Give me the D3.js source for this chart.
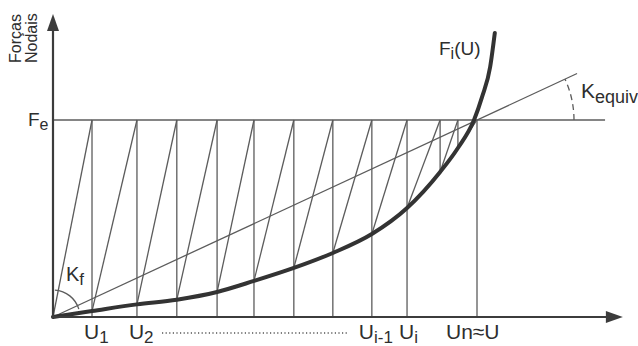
<!DOCTYPE html>
<html lang="pt">
<head>
<meta charset="UTF-8">
<title>Forças Nodais - iterações</title>
<script src="https://d3js.org/d3.v7.min.js"></script>
<style>
  body { margin: 0; background: #fff; }
  svg { display: block; font-family: "Liberation Sans", Arial, sans-serif; }
  .axis { stroke: #3c3c3c; stroke-width: 2.2; fill: none; }
  .arrow { fill: #3c3c3c; }
  .thin { stroke: #5c5c5c; stroke-width: 1.3; fill: none; }
  .curve { stroke: #333; stroke-width: 4; fill: none; stroke-linecap: round; }
  text { fill: #2e2e2e; }
</style>
</head>
<body>
<div id="chart"></div>
<script>
// Fe = 1, Un = 1 (normalized)
const Fe = 1;

// displacement at each iteration
const iterU = [0.092, 0.198, 0.292, 0.387, 0.474, 0.568, 0.660, 0.752, 0.835, 0.913, 0.955, 1.0];
// internal force on the curve at each iteration displacement
const iterF = [0.030, 0.064, 0.088, 0.127, 0.183, 0.249, 0.325, 0.421, 0.553, 0.736, 0.858];
// vertical goes down to the axis (true) or stops at the curve (false)
const toAxis = [true, true, true, true, true, true, true, true, true, false, false, true];

// F_i(U) curve
const curveU = [0, 0.092, 0.198, 0.292, 0.387, 0.474, 0.568, 0.660, 0.752, 0.835, 0.913, 0.955, 0.993, 1.012, 1.031, 1.042];
const curveF = [0, 0.030, 0.064, 0.088, 0.127, 0.183, 0.249, 0.325, 0.421, 0.553, 0.736, 0.858, 1.0, 1.117, 1.269, 1.442];

// secant K_equiv = Fe / Un
const kEquiv = 1;
const secantEndU = 1.236;

const uMax = 1.344, fMax = 1.538, feLineEnd = 1.302;

// axis labels under the x axis
const uLabels = ["1", "2", "i-1", "i"];
const uLabelIdx = [0, 1, 7, 8];

const width = 638, height = 346;

const svg = d3.select("#chart").append("svg")
    .attr("width", width)
    .attr("height", height);

const x = d3.scaleLinear().domain([0, 1]).range([53, 477]);
const y = d3.scaleLinear().domain([0, 1]).range([317, 120]);

const g = svg.append("g");

// Fe level
g.append("line").attr("class", "thin")
    .attr("x1", x(0)).attr("x2", x(feLineEnd))
    .attr("y1", y(Fe)).attr("y2", y(Fe));

// verticals
iterU.forEach((u, i) => {
    const bottom = toAxis[i] ? 0 : iterF[i];
    g.append("line").attr("class", "thin")
        .attr("x1", x(u)).attr("x2", x(u))
        .attr("y1", y(Fe)).attr("y2", y(bottom));
});

// sloped (stiffness) lines
iterU.forEach((u, i) => {
    const u0 = i === 0 ? 0 : iterU[i - 1];
    const f0 = i === 0 ? 0 : iterF[i - 1];
    g.append("line").attr("class", "thin")
        .attr("x1", x(u0)).attr("y1", y(f0))
        .attr("x2", x(u)).attr("y2", y(Fe));
});

// secant
g.append("line").attr("class", "thin")
    .attr("x1", x(0)).attr("y1", y(0))
    .attr("x2", x(secantEndU)).attr("y2", y(kEquiv * secantEndU));

// K_equiv dashed arc
const secAngle = Math.atan2(y(0) - y(kEquiv * secantEndU), x(secantEndU) - x(0));
const p1 = d3.path();
p1.arc(x(1), y(1), 97, 0, -secAngle, true);
g.append("path").attr("class", "thin")
    .attr("stroke-dasharray", "6,4")
    .attr("d", p1.toString());

// K_f arc
const p2 = d3.path();
p2.arc(x(0), y(0), 27, -17 * Math.PI / 180, -86 * Math.PI / 180, true);
g.append("path").attr("class", "thin").attr("d", p2.toString());

// dotted ellipsis between labels
g.append("line")
    .attr("x1", 162).attr("x2", 348).attr("y1", 333).attr("y2", 333)
    .attr("stroke", "#555").attr("stroke-width", 1.3)
    .attr("stroke-dasharray", "1.2,2.4");

// F_i(U) curve
const line = d3.line().x(d => x(d[0])).y(d => y(d[1])).curve(d3.curveMonotoneX);
svg.append("path").attr("class", "curve")
    .attr("d", line(d3.zip(curveU, curveF)));

// axes
svg.append("line").attr("class", "axis")
    .attr("x1", x(0)).attr("y1", y(0)).attr("x2", x(0)).attr("y2", y(fMax) + 10);
svg.append("line").attr("class", "axis")
    .attr("x1", x(0) - 1).attr("y1", y(0)).attr("x2", x(uMax) - 10).attr("y2", y(0));
svg.append("path").attr("class", "arrow")
    .attr("d", `M${x(0)},${y(fMax)} L${x(0) - 6},${y(fMax) + 17} L${x(0) + 6},${y(fMax) + 17} Z`);
svg.append("path").attr("class", "arrow")
    .attr("d", `M${x(uMax)},${y(0)} L${x(uMax) - 17},${y(0) - 6} L${x(uMax) - 17},${y(0) + 6} Z`);

// labels
function subLabel(xp, yp, main, sub, size, subSize, shift, after) {
    const t = svg.append("text").attr("x", xp).attr("y", yp).style("font-size", size + "px");
    t.append("tspan").text(main);
    t.append("tspan").attr("dy", shift).style("font-size", subSize + "px").text(sub);
    if (after) t.append("tspan").attr("dy", -shift).text(after);
    return t;
}

svg.append("text").attr("transform", "translate(21,63) rotate(-90)")
    .style("font-size", "16px").text("Forças");
svg.append("text").attr("transform", "translate(37,63) rotate(-90)")
    .style("font-size", "16px").text("Nodais");

subLabel(28, 126, "F", "e", 19, 16, 4);
subLabel(66, 281, "K", "f", 20, 17, 4);
subLabel(439, 55, "F", "i", 19, 16, 4, "(U)");
subLabel(581, 98, "K", "equiv", 21, 18, 5);

uLabelIdx.forEach((k, j) => {
    const off = uLabels[j] === "i-1" ? 13 : 8;
    subLabel(x(iterU[k]) - off, 339, "U", uLabels[j], 21, 17, 3.5);
});
svg.append("text").attr("x", 446).attr("y", 339).style("font-size", "21px").text("Un≈U");
</script>
</body>
</html>
